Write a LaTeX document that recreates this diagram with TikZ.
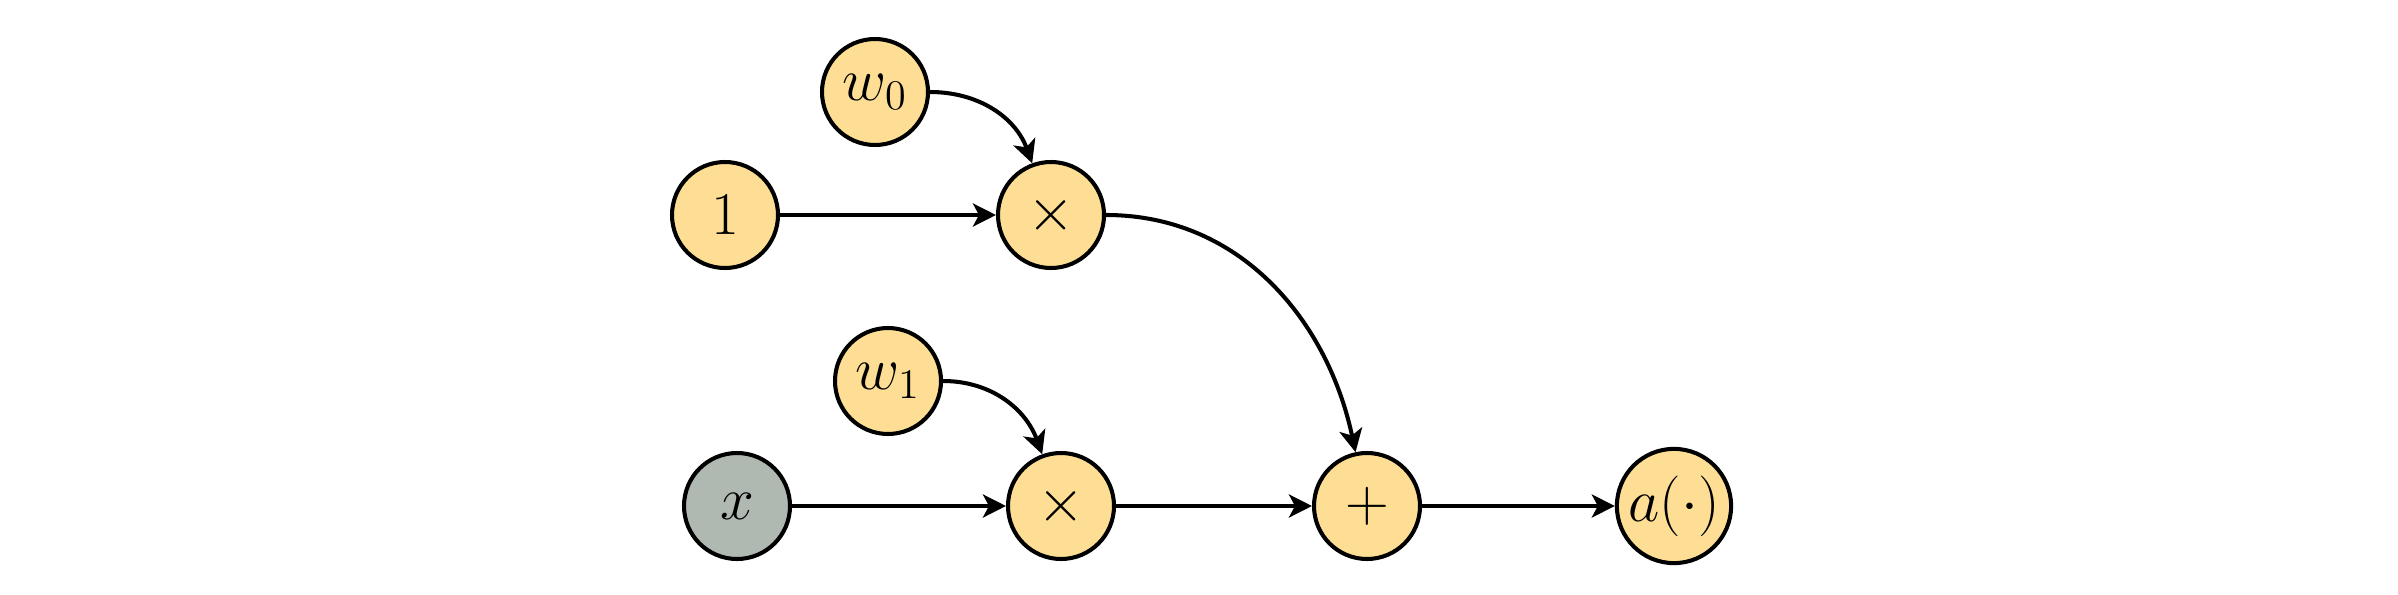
\documentclass[tikz,border=0pt]{standalone}
\usetikzlibrary{arrows.meta}
\definecolor{nodeyellow}{RGB}{253,222,148}
\definecolor{nodegray}{RGB}{176,184,178}
\begin{document}
\begin{tikzpicture}[
  every node/.style={font=\fontsize{16.5}{18}\selectfont},
  unit/.style={circle, draw=black, line width=1.15pt, fill=nodeyellow, minimum size=1.06cm, inner sep=0.5pt},
  inputunit/.style={unit, fill=nodegray},
  conn/.style={line width=1.15pt, -{Stealth[length=0.23cm, width=0.23cm, inset=0.06cm]}}
]
\useasboundingbox (0,0) rectangle (23.98,5.94);
\node[unit] (w0) at (8.75,5.02) {$w_0$};
\node[unit] (one) at (7.25,3.79) {$1$};
\node[unit] (m1) at (10.51,3.79) {$\times$};
\node[unit] (w1) at (8.88,2.13) {$w_1$};
\node[inputunit] (x) at (7.37,0.88) {$x$};
\node[unit] (m2) at (10.61,0.88) {$\times$};
\node[unit] (p) at (13.67,0.88) {$+$};
\node[unit] (a) at (16.74,0.88) {$a(\cdot)$};
\draw[conn] (one) -- (m1);
\draw[conn] (w0.east) to[out=0, in=110] (m1);
\draw[conn] (x) -- (m2);
\draw[conn] (w1.east) to[out=0, in=110] (m2);
\draw[conn] (m2) -- (p);
\draw[conn] (m1.east) to[out=0, in=102] (p);
\draw[conn] (p) -- (a);
\end{tikzpicture}
\end{document}
